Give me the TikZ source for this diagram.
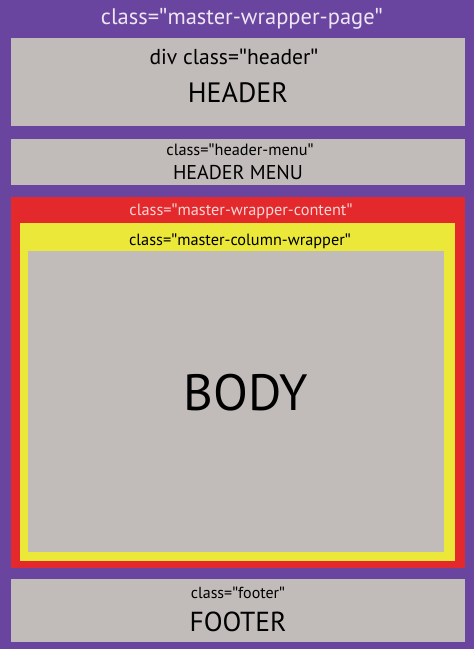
\documentclass[tikz,border=0pt]{standalone}
\usepackage{fontspec}
\setmainfont{PT Sans}
\newfontfamily\qfont{Lato}
\newcommand{\dq}{{\qfont\char"22}}
\definecolor{purp}{HTML}{6A45A0}
\definecolor{boxgray}{HTML}{C1BCBA}
\definecolor{wred}{HTML}{E4292C}
\definecolor{wyel}{HTML}{EBE83A}
\definecolor{lightlbl}{HTML}{EEE6F4}
\definecolor{pinklbl}{HTML}{F7D6D6}
\begin{document}
\begin{tikzpicture}[x=1pt,y=-1pt,
  lbl/.style={inner sep=0pt,anchor=center},
  graybox/.style={fill=boxgray,draw=none}]
\fill[purp] (0,0) rectangle (474,649);
\useasboundingbox (0,0) rectangle (474,649);
% title
\node[lbl,text=lightlbl,font=\fontsize{22.5}{25}\selectfont] (title) at (242,19) {class=\dq master-wrapper-page\dq};
% header
\fill[graybox] (11,38) rectangle (465,126);
\node[lbl,font=\fontsize{21.6}{24}\selectfont] (hdrc) at (234,57) {div class=\dq header\dq};
\node[lbl,font=\fontsize{28}{30}\selectfont] (hdr) at (238,93) {HEADER};
% header menu
\fill[graybox] (11,139) rectangle (465,185);
\node[lbl,font=\fontsize{16.3}{18}\selectfont] (hmc) at (240,150) {class=\dq header-menu\dq};
\node[lbl,font=\fontsize{20}{22}\selectfont] (hm) at (238,172) {HEADER MENU};
% content wrapper
\fill[wred] (11,197) rectangle (465,568);
\node[lbl,text=pinklbl,font=\fontsize{16.3}{18}\selectfont] (mwc) at (241,211) {class=\dq master-wrapper-content\dq};
\fill[wyel] (20,223) rectangle (455,561);
\node[lbl,font=\fontsize{16.3}{18}\selectfont] (mcw) at (240,241) {class=\dq master-column-wrapper\dq};
\fill[graybox] (28,251) rectangle (444,552);
\node[lbl,font=\fontsize{51}{54}\selectfont] (body) at (246,393) {BODY};
% footer
\fill[graybox] (11,579) rectangle (465,642);
\node[lbl,font=\fontsize{16}{18}\selectfont] (ftc) at (238,593) {class=\dq footer\dq};
\node[lbl,font=\fontsize{27.5}{30}\selectfont] (ft) at (238,622) {FOOTER};
\end{tikzpicture}
\end{document}
